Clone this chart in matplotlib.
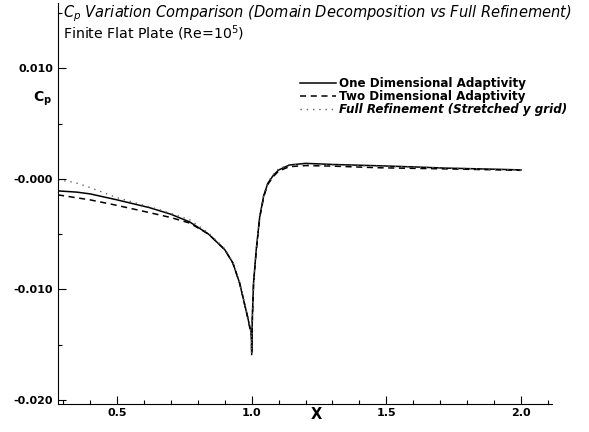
import matplotlib
matplotlib.use("Agg")
import matplotlib.pyplot as plt
from matplotlib.ticker import FixedLocator, FixedFormatter, MultipleLocator

plt.rcParams['font.family'] = ['DejaVu Sans']
plt.rcParams['mathtext.default'] = 'regular'

# --- data ---
x_one = [0.281, 0.35, 0.40, 0.50, 0.62, 0.70, 0.77, 0.84, 0.90, 0.93, 0.955, 0.985, 0.999, 1.0,
         1.0025, 1.007, 1.017, 1.03, 1.045, 1.06, 1.08, 1.10, 1.14, 1.20, 1.30, 1.475, 1.60, 1.72, 1.85, 2.0]
cp_one = [-0.00109, -0.0012, -0.00136, -0.0019, -0.0026, -0.0032, -0.0039, -0.0050, -0.0064, -0.0076,
          -0.0094, -0.0125, -0.0140, -0.0157, -0.0125, -0.0094, -0.0064, -0.0034, -0.0015, -0.0004,
          0.0003, 0.0008, 0.00125, 0.0014, 0.0013, 0.00118, 0.00108, 0.00097, 0.0009, 0.00081]

x_two = [0.281, 0.40, 0.50, 0.62, 0.70, 0.77, 0.84, 0.90, 0.93, 0.955, 0.985, 0.999, 1.0,
         1.0025, 1.007, 1.017, 1.03, 1.045, 1.06, 1.08, 1.10, 1.14, 1.20, 1.30, 1.475, 1.72, 2.0]
cp_two = [-0.00145, -0.0019, -0.0024, -0.00305, -0.0035, -0.0040, -0.0050, -0.0064, -0.0076,
          -0.0094, -0.0125, -0.0142, -0.0159, -0.0127, -0.0095, -0.0065, -0.0035, -0.0016, -0.0005,
          0.0002, 0.0007, 0.0011, 0.0012, 0.00115, 0.0010, 0.0009, 0.00077]

x_full = [0.281, 0.34, 0.39, 0.50, 0.66, 0.77, 0.84, 0.90, 0.93, 0.955, 0.985, 0.999, 1.0,
          1.0025, 1.007, 1.017, 1.03, 1.045, 1.06, 1.08, 1.10, 1.14, 1.20, 1.50, 2.0]
cp_full = [-0.0001, -0.0003, -0.0007, -0.0017, -0.0028, -0.0037, -0.0049, -0.0063, -0.0075,
           -0.0093, -0.0124, -0.0140, -0.0158, -0.0126, -0.0094, -0.0064, -0.0033, -0.0014, -0.0003,
           0.0004, 0.0009, 0.0013, 0.0013, 0.00112, 0.0008]

labels = ["One Dimensional Adaptivity", "Two Dimensional Adaptivity",
          "Full Refinement (Stretched y grid)"]
x_major = [0.5, 1.0, 1.5, 2.0]
x_major_labels = ["0.5", "1.0", "1.5", "2.0"]
y_major = [0.010, 0.0, -0.010, -0.020]
y_major_labels = ["0.010", "-0.000", "-0.010", "-0.020"]
title1 = "$C_p$ Variation Comparison (Domain Decomposition vs Full Refinement)"
title2 = "Finite Flat Plate (Re=10$^5$)"

fig = plt.figure(figsize=(5.89, 4.32), dpi=100)
ax = fig.add_axes([58/589, 1-404/432, (552-58)/589, (404-3)/432])

ax.plot(x_one, cp_one, color='black', lw=1.1, ls='-', label=labels[0])
ax.plot(x_two, cp_two, color='black', lw=1.1, ls=(0, (4, 3)), label=labels[1])
ax.plot(x_full, cp_full, color='#666666', lw=1.0, ls=(0, (1, 3.5)), label=labels[2])

ax.set_xlim(0.281, 2.115)
ax.set_ylim(-0.02036, 0.0159)

for s in ['top', 'right']:
    ax.spines[s].set_visible(False)
ax.xaxis.set_major_locator(FixedLocator(x_major))
ax.xaxis.set_major_formatter(FixedFormatter(x_major_labels))
ax.xaxis.set_minor_locator(MultipleLocator(0.1))
ax.yaxis.set_major_locator(FixedLocator(y_major))
ax.yaxis.set_major_formatter(FixedFormatter(y_major_labels))
ax.yaxis.set_minor_locator(MultipleLocator(0.005))
ax.tick_params(which='both', direction='in')
ax.tick_params(which='major', length=6, width=0.8, labelsize=8)
ax.tick_params(which='minor', length=3, width=0.8)
for lab in ax.get_xticklabels() + ax.get_yticklabels():
    lab.set_fontweight('bold')
ax.tick_params(axis='x', pad=3)

# axis labels placed as in the reference
ax.text(1.24, -0.0206, "X", fontsize=10.5, fontweight='bold', ha='center', va='top')
ax.text(-0.012, 0.76, "$C_p$", transform=ax.transAxes, fontsize=10, fontweight='bold',
        ha='right', va='center')

fig.text(63/589, 1-14/432, title1, fontsize=10.5, fontstyle='italic', va='center', ha='left')
fig.text(63/589, 1-33/432, title2, fontsize=10.2, va='center', ha='left')

leg = ax.legend(loc='upper left', bbox_to_anchor=((300-58)/494, 1-(77-3)/401), frameon=False,
                prop={'size': 8.6, 'weight': 'bold'}, handlelength=3.0, handletextpad=0.25,
                labelspacing=0.0, borderaxespad=0, borderpad=0)
leg.get_texts()[2].set_fontstyle('italic')

fig.savefig("out.png", dpi=100)
